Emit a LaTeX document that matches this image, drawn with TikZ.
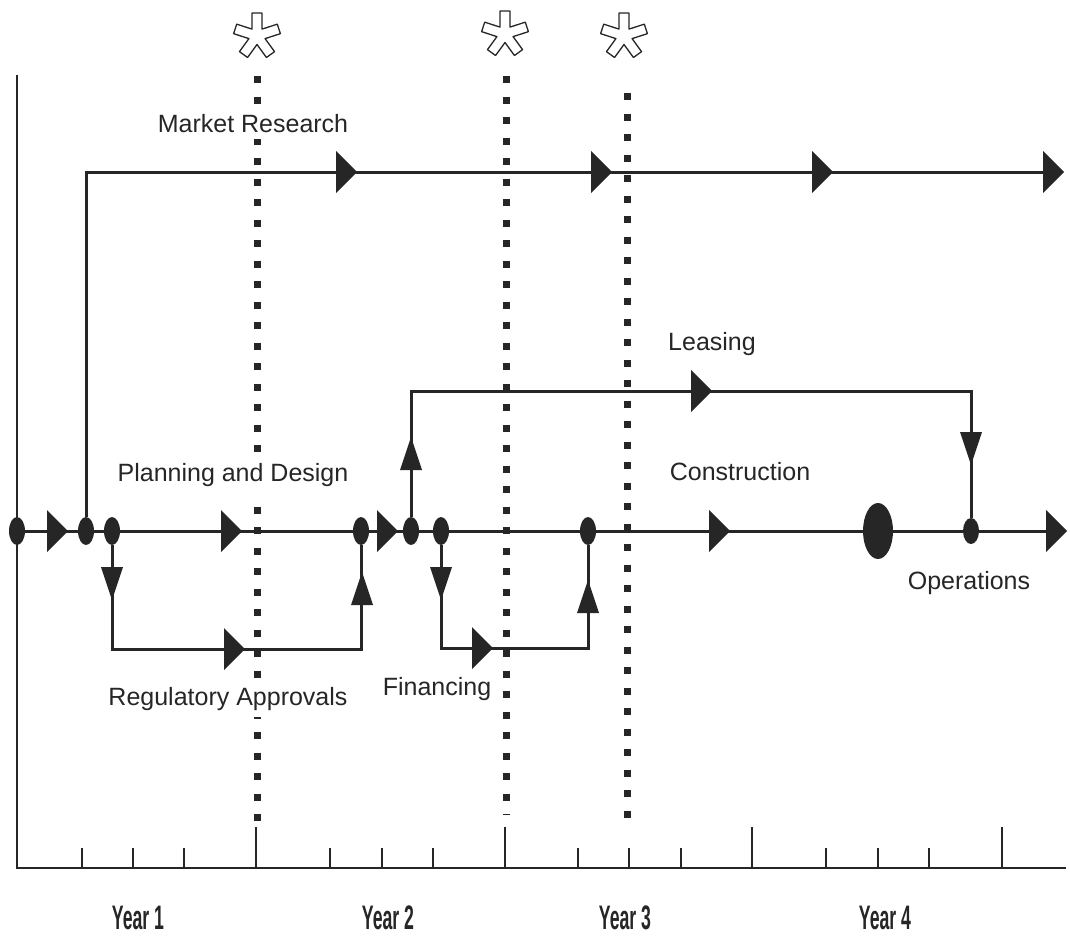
\documentclass[tikz,border=0pt]{standalone}
\usepackage{fontspec}
\setmainfont{Liberation Sans}
\usetikzlibrary{shapes.geometric, positioning, calc}
\definecolor{ink}{HTML}{262626}

\tikzset{
  flow/.style={draw=ink, line width=3pt},
  junction/.style={ellipse, fill=ink, inner sep=0pt, minimum width=16pt, minimum height=28pt},
  milestone/.style={ellipse, fill=ink, inner sep=0pt, minimum width=30pt, minimum height=56pt},
  phase/.style={font=\fontsize{25}{28}\selectfont, text=ink, fill=white, inner sep=7pt, anchor=base},
  yearlabel/.style={font=\fontsize{34}{36}\selectfont\bfseries, text=ink, inner sep=0pt,
    anchor=base, xscale=0.52, transform shape},
  review/.style={draw=ink, line width=7pt, dash pattern=on 7pt off 13.5pt},
  arrR/.pic={\fill[ink] (0,0) -- (-21,-21) -- (-21,21) -- cycle;},
  arrU/.pic={\fill[ink] (0,0) -- (-11,33) -- (11,33) -- cycle;},
  arrD/.pic={\fill[ink] (0,0) -- (-11,-33) -- (11,-33) -- cycle;},
  gate/.pic={\draw[ink, line width=1.3pt, fill=white, line join=round]
    (-126:8.5) \foreach \k in {0,...,4}{
      -- ({-90+72*\k-12.3}:23.5) -- ({-90+72*\k+12.3}:23.5) -- ({-54+72*\k}:8.5)} -- cycle;}
}

\begin{document}
\begin{tikzpicture}[x=1pt,y=-1pt]
\useasboundingbox (0,0) rectangle (1070,937);

% review points
\draw[review] (257,76) -- (257,822);
\draw[review] (506,76) -- (506,815);
\draw[review] (627,93) -- (627,830);
\pic at (257,36) {gate};
\pic at (505,34) {gate};
\pic at (624,36) {gate};

% time axis
\coordinate (top) at (17,75);
\coordinate (origin) at (17,868);
\coordinate (axisend) at (1066,868);
\draw[ink, line width=2.5pt] (top) -- (origin) -- (axisend);
\foreach \x in {82,133,184,330,382,433,578,629,681,826,878,929}
  \draw[ink, line width=2pt] (\x,868) -- (\x,848);
\foreach \x in {256,505,752,1002}
  \draw[ink, line width=2pt] (\x,868) -- (\x,827);

\node[yearlabel] (y1) at (138,929) {Year 1};
\node[yearlabel] (y2) at (388,929) {Year 2};
\node[yearlabel] (y3) at (625,929) {Year 3};
\node[yearlabel] (y4) at (885,929) {Year 4};

% junctions on the main line
\node[junction] (start) at (17,531) {};
\node[junction] (mr0) at (86,531) {};
\node[junction] (ra0) at (112,531) {};
\node[junction] (ra1) at (361,531) {};
\node[junction] (ls0) at (411,531) {};
\node[junction] (fi0) at (441,531) {};
\node[junction] (fi1) at (588,531) {};
\node[milestone] (done) at (878,531) {};
\node[junction, minimum height=26pt] (ls1) at (971,531) {};
\coordinate (mainend) at (1050,531);
\coordinate (mrend) at (1048,172);
\coordinate (rab) at (112,649);
\coordinate (fib) at (441,648);
\coordinate (lst) at (411,391);

% activities
\draw[flow] (start) -- (mr0) -- (ra0) -- (ra1) -- (ls0) -- (fi0) -- (fi1) -- (done) -- (ls1) -- (mainend);
\draw[flow] (mr0) |- (mrend);
\draw[flow] (ra0) -- (rab) -| (ra1);
\draw[flow] (fi0) -- (fib) -| (fi1);
\draw[flow] (ls0) -- (lst) -| (ls1);

% direction marks
\foreach \x in {68,242,398,730,1067}
  \pic at (\x,531) {arrR};
\foreach \x in {357,612,833,1064}
  \pic at (\x,172) {arrR};
\pic at (411,437) {arrU};
\pic at (712,391) {arrR};
\pic at (971,465) {arrD};
\pic at (112,600) {arrD};
\pic at (245,649) {arrR};
\pic at (362,572) {arrU};
\pic at (441,600) {arrD};
\pic at (493,648) {arrR};
\pic at (588,580) {arrU};

% labels
\node[phase] (mrlab) at (253,132) {Market Research};
\node[phase] (pdlab) at (233,481) {Planning and Design};
\node[phase] (ralab) at (228,705) {Regulatory Approvals};
\node[phase] (filab) at (437,695) {Financing};
\node[phase] (lslab) at (712,350) {Leasing};
\node[phase] (colab) at (740,480) {Construction};
\node[phase] (oplab) at (969,589) {Operations};
\end{tikzpicture}
\end{document}
